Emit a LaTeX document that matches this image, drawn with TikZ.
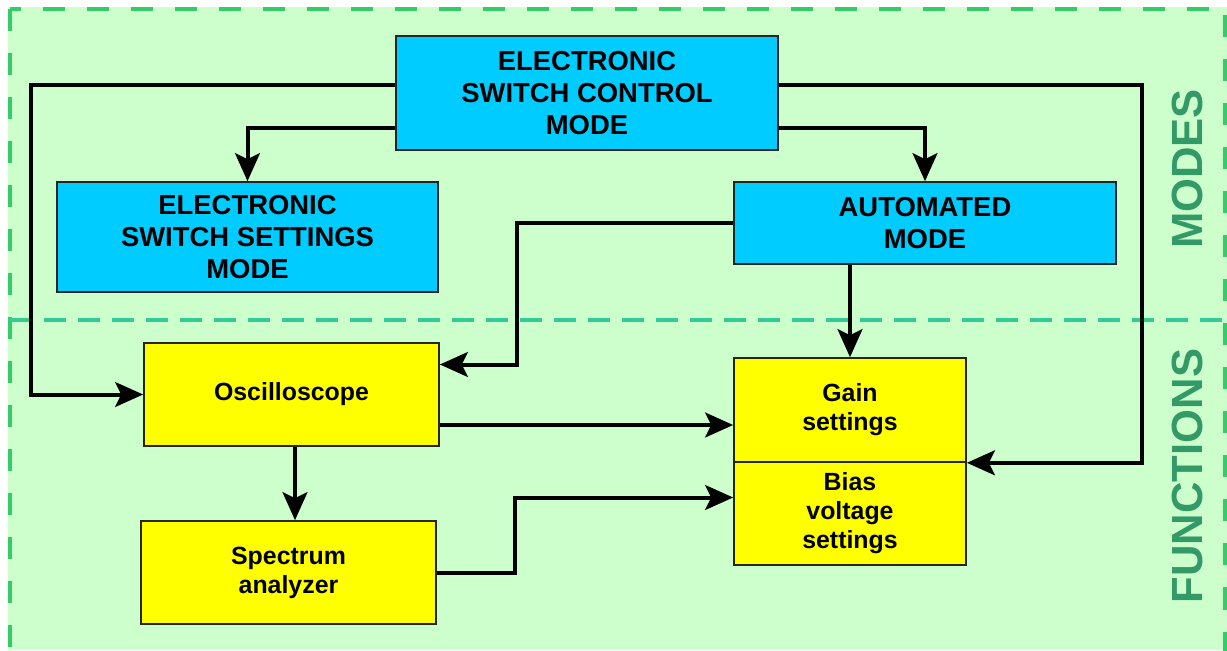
\documentclass[tikz,border=0pt]{standalone}
\usepackage{fontspec}
\setmainfont{Liberation Sans}
\usepackage{tikz}
\usetikzlibrary{arrows.meta}
\usetikzlibrary{calc}
\definecolor{bgreen}{RGB}{204,255,204}
\definecolor{dgreen}{RGB}{51,204,102}
\definecolor{divgreen}{RGB}{51,204,153}
\definecolor{lblgreen}{RGB}{51,153,102}
\definecolor{modecyan}{RGB}{0,204,255}
\definecolor{funcyellow}{RGB}{255,255,0}

\begin{document}
\begin{tikzpicture}[x=0.025cm, y=-0.025cm,
  >={Stealth[length=0.7cm, width=0.62cm, inset=0.15cm]},
  modebox/.style={draw=black!85, line width=0.04cm, fill=modecyan, align=center,
    inner sep=0pt, font=\bfseries\fontsize{19.5}{22.7}\selectfont},
  funcbox/.style={draw=black!85, line width=0.04cm, fill=funcyellow, align=center,
    inner sep=0pt, font=\bfseries\fontsize{17.7}{20.6}\selectfont},
  flow/.style={->, line width=0.1cm},
  zone/.style={rotate=90, text=lblgreen, font=\bfseries\fontsize{31}{36}\selectfont}]

  \useasboundingbox (0,0) rectangle (1227,650);
  \fill[bgreen] (8,7) rectangle (1227,650);
  \draw[dgreen, line width=0.1cm, dash pattern=on 0.55cm off 0.55cm] (10,9) rectangle (1225,670);
  \draw[divgreen, line width=0.08cm, dash pattern=on 0.55cm off 0.3cm] (10,320) -- (1227,320);

  % modes
  \node[modebox, minimum width=9.55cm, minimum height=2.85cm] (esc) at (587,93)
    {ELECTRONIC\\SWITCH CONTROL\\MODE};
  \node[modebox, minimum width=9.525cm, minimum height=2.75cm] (ess) at (247.5,237)
    {ELECTRONIC\\SWITCH SETTINGS\\MODE};
  \node[modebox, minimum width=9.55cm, minimum height=2.05cm] (auto) at (925,223)
    {AUTOMATED\\MODE};

  % functions
  \node[funcbox, minimum width=7.375cm, minimum height=2.575cm] (osc) at (291.5,394.5)
    {Oscilloscope};
  \node[funcbox, minimum width=7.375cm, minimum height=2.575cm] (spec) at (288.5,572.5)
    {Spectrum\\analyzer};
  \node[funcbox, minimum width=5.8cm, minimum height=2.6cm] (gain) at (850,410)
    {Gain\\settings};
  \node[funcbox, minimum width=5.8cm, minimum height=2.575cm] (bias) at (850,513.5)
    {Bias\\voltage\\settings};

  \node[zone] (modes) at (1187,169) {MODES};
  \node[zone] (funcs) at (1187,476) {FUNCTIONS};

  % connectors
  \coordinate (lbus) at (31,85);
  \coordinate (rbus) at (1142,85);
  \draw[flow] ($(esc.west)+(0,-8)$) -- (lbus) |- (osc.west);
  \draw[flow] ($(esc.west)+(0,35)$) -| (ess.north);
  \draw[flow] ($(esc.east)+(0,-8)$) -- (rbus) |- (gain.south east);
  \draw[flow] ($(esc.east)+(0,35)$) -| (auto.north);

  \draw[flow] (auto.west) -| ($(osc.east)+(77,-30)$) -- ($(osc.east)+(0,-30)$);
  \draw[flow] (gain.north |- auto.south) -- (gain.north);

  \coordinate (o2g) at ($(osc.east)+(0,30.5)$);
  \draw[flow] (o2g) -- (o2g -| gain.west);
  \coordinate (o2s) at ($(osc.south)+(3.5,0)$);
  \draw[flow] (o2s) -- (o2s |- spec.north);
  \draw[flow] (spec.east) -| ($(bias.west)+(-218,-16)$) -- ($(bias.west)+(0,-16)$);
\end{tikzpicture}
\end{document}
